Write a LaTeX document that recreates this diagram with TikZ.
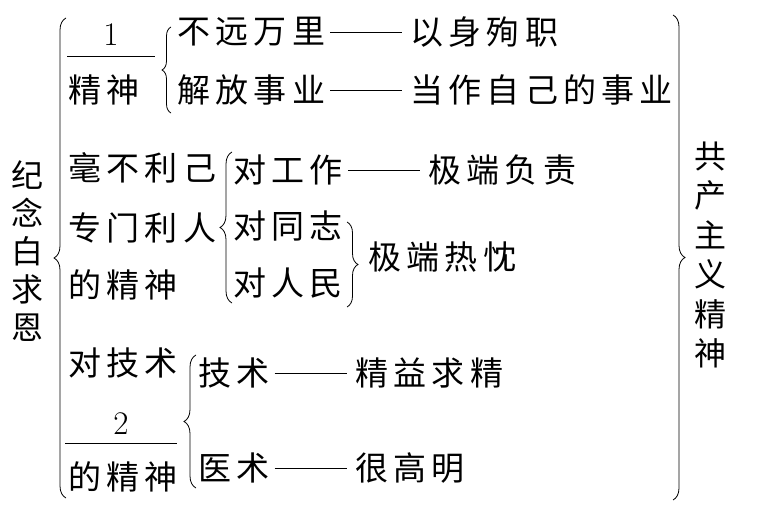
\documentclass[tikz,border=0pt]{standalone}
\usepackage{fontspec}
\usetikzlibrary{decorations.pathreplacing}
\newfontfamily\cjk[LetterSpace=16]{Noto Sans CJK SC}
\newfontfamily\cjkv{Noto Sans CJK SC}
\begin{document}
\begin{tikzpicture}[x=1pt,y=-1pt,
  txt/.style={inner sep=0pt,anchor=west,font=\fontsize{33}{36}\cjk},
  vtxt/.style={inner sep=0pt,align=center,font=\fontsize{32}{38}\cjkv},
  num/.style={inner sep=0pt,font=\fontsize{33}{34}\selectfont},
  bar/.style={line width=0.8pt},
  dashline/.style={line width=0.9pt,shorten <=5pt,shorten >=8pt},
  lbrace/.style={line width=0.8pt,decorate,decoration={brace,amplitude=#1}},
]
\useasboundingbox (0,0) rectangle (757,513);
% outer braces
\draw[lbrace=12] (66,498) -- (66,18);
\draw[lbrace=12] (673,15) -- (673,500);
% side texts
\node[vtxt] (title) at (28,251) {纪\\念\\白\\求\\恩};
\node[vtxt,font=\fontsize{32}{39.4}\cjkv] (result) at (710,255) {共\\产\\主\\义\\精\\神};
% block 1
\node[num] (n1) at (111,35) {1};
\draw[bar] (67,56) -- (155,56);
\node[txt] (js1) at (68,90) {精神};
\draw[lbrace=9] (171,113) -- (171,27);
\node[txt] (a1) at (177,32) {不远万里};
\node[txt] (b1) at (410,32) {以身殉职};
\node[txt] (a2) at (177,90) {解放事业};
\node[txt] (b2) at (410,90) {当作自己的事业};
\draw[dashline] (a1.east) -- (b1.west);
\draw[dashline] (a2.east) -- (b2.west);
% block 2
\node[txt] (m1) at (68,168) {毫不利己};
\node[txt] (m2) at (68,228) {专门利人};
\node[txt] (m3) at (68,285) {的精神};
\draw[lbrace=12] (232,303) -- (232,152);
\node[txt] (c1) at (233,170) {对工作};
\node[txt] (d1) at (428,170) {极端负责};
\draw[dashline] (c1.east) -- (d1.west);
\node[txt] (c2) at (233,226) {对同志};
\node[txt] (c3) at (233,283) {对人民};
\draw[lbrace=11] (347,222) -- (347,307);
\node[txt] (d2) at (368,257) {极端热忱};
% block 3
\node[txt] (k1) at (68,363) {对技术};
\node[num] (n2) at (121,424) {2};
\draw[bar] (65,443) -- (177,443);
\node[txt] (k3) at (68,477) {的精神};
\draw[lbrace=12] (196,488) -- (196,355);
\node[txt] (e1) at (198,373) {技术};
\node[txt] (f1) at (355,373) {精益求精};
\draw[dashline] (e1.east) -- (f1.west);
\node[txt] (e2) at (198,468) {医术};
\node[txt] (f2) at (355,468) {很高明};
\draw[dashline] (e2.east) -- (f2.west);
\end{tikzpicture}
\end{document}
